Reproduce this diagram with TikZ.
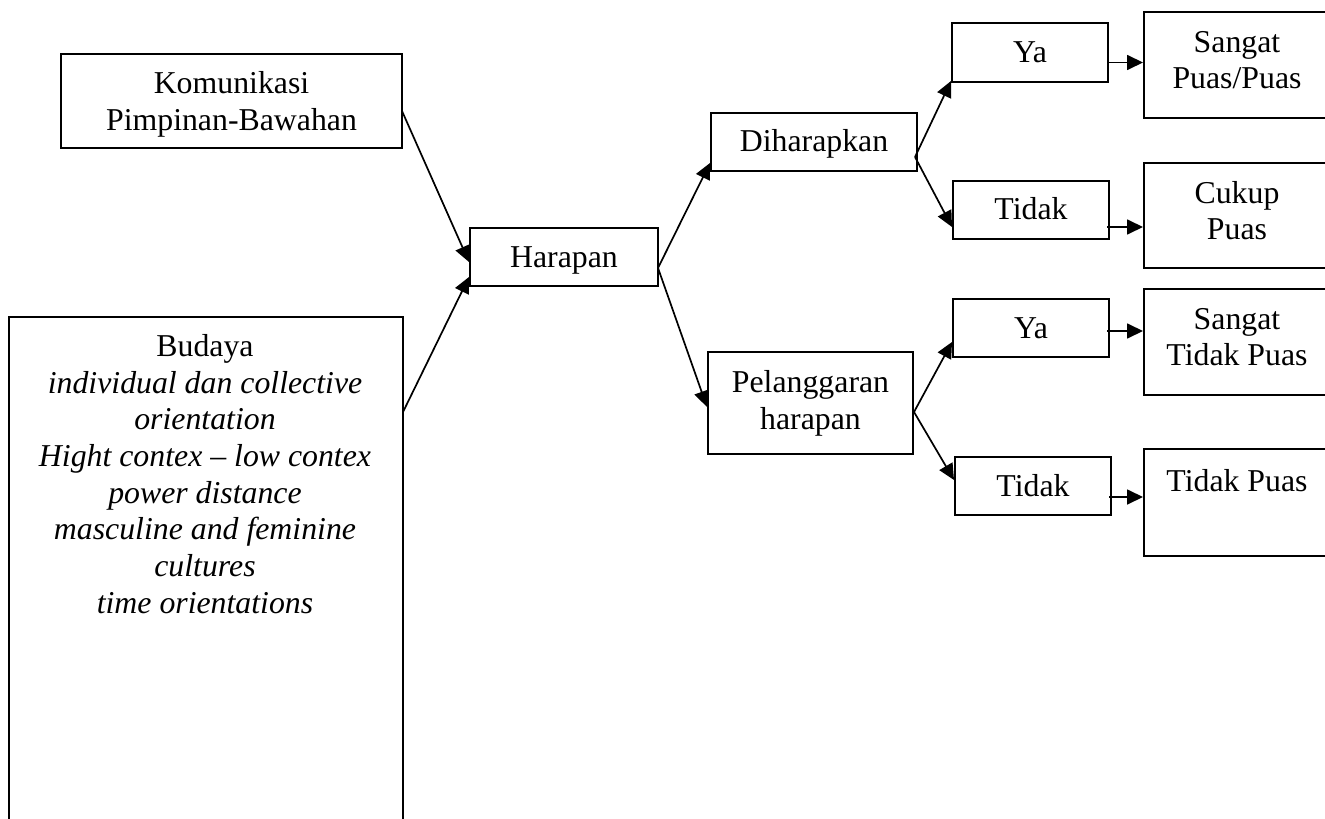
\documentclass[tikz,border=0pt]{standalone}
\usepackage{fontspec}
\setmainfont{Liberation Serif}
\usetikzlibrary{arrows.meta,calc}
\begin{document}
\begin{tikzpicture}[x=0.5pt,y=-0.5pt,
  box/.style={draw, line width=1pt, inner sep=0pt, align=center,
    font=\fontsize{15.9}{18.35}\selectfont},
  one/.style={text height=11pt, text depth=1pt},
  rbox/.style={box, text depth=5pt},
  arr/.style={line width=0.85pt, -{Triangle[length=8pt,width=7.5pt]}},
  txt/.style={inner sep=0pt, align=center, font=\fontsize{15.9}{18.35}\selectfont}]
\useasboundingbox (0,0) rectangle (1325,818);
\clip (0,0) rectangle (1325,818);
% left column
\node[box, text depth=0pt, minimum width=170.5pt, minimum height=47pt] (kom) at (231.5,101) {Komunikasi\\Pimpinan-Bawahan};
\node[box, minimum width=197pt, minimum height=260pt, anchor=north west] (bud) at (8,316) {};
\node[txt, anchor=north] (budtxt) at (205,334) {Budaya\\\itshape individual dan collective\\\itshape orientation\\\itshape Hight contex -- low contex\\\itshape power distance\\\itshape masculine and feminine\\\itshape cultures\\\itshape time orientations};
% middle
\node[box, one, minimum width=94pt, minimum height=29pt] (har) at (564,257) {Harapan};
\node[box, one, minimum width=103pt, minimum height=29pt] (dih) at (814,142) {Diharapkan};
\node[box, minimum width=102.5pt, minimum height=51pt] (pel) at (810.5,403) {Pelanggaran\\harapan};
% decisions
\node[box, one, minimum width=78pt, minimum height=29.5pt] (ya1) at (1030,52.5) {Ya};
\node[box, one, minimum width=78pt, minimum height=29pt] (td1) at (1031,210) {Tidak};
\node[box, one, minimum width=78pt, minimum height=29pt] (ya2) at (1031,328) {Ya};
\node[box, one, minimum width=78pt, minimum height=29pt] (td2) at (1033,486) {Tidak};
% outcomes
\node[rbox, minimum width=93pt, minimum height=53pt] (spp) at (1237,65) {Sangat\\Puas/Puas};
\node[rbox, minimum width=93pt, minimum height=52.5pt] (cp) at (1237,215.5) {Cukup\\Puas};
\node[rbox, minimum width=93pt, minimum height=53pt] (stp) at (1237,342) {Sangat\\Tidak Puas};
\node[rbox, text depth=4pt, minimum width=93pt, minimum height=53.5pt] (tp) at (1237,502.5) {Tidak Puas\\\mbox{}};
% connectors
\draw[arr] ($(kom.east)+(-1,10)$) -- ($(har.west)+(0,5)$);
\draw[arr] ($(bud.north east)+(-1,96)$) -- ($(har.west)+(0,20)$);
\draw[arr] ($(har.east)+(-1,11)$) -- ($(dih.west)+(0,21)$);
\draw[arr] ($(har.east)+(-1,11)$) -- ($(pel.west)+(0,4)$);
\draw[arr] ($(dih.east)+(-3,15)$) -- ($(ya1.south west)+(0,-2)$);
\draw[arr] ($(dih.east)+(-3,15)$) -- ($(td1.west)+(0,17)$);
\draw[arr] ($(pel.east)+(0,9)$) -- ($(ya2.west)+(0,14)$);
\draw[arr] ($(pel.east)+(0,9)$) -- ($(td2.west)+(0,-6)$);
\coordinate (a1) at ($(ya1.east)+(-2,10)$);
\coordinate (a2) at ($(td1.east)+(-3,17)$);
\coordinate (a3) at ($(ya2.east)+(-3,3)$);
\coordinate (a4) at ($(td2.east)+(-3,11)$);
\draw[arr] (a1) -- (a1 -| spp.west);
\draw[arr] (a2) -- (a2 -| cp.west);
\draw[arr] (a3) -- (a3 -| stp.west);
\draw[arr] (a4) -- (a4 -| tp.west);
\end{tikzpicture}
\end{document}
